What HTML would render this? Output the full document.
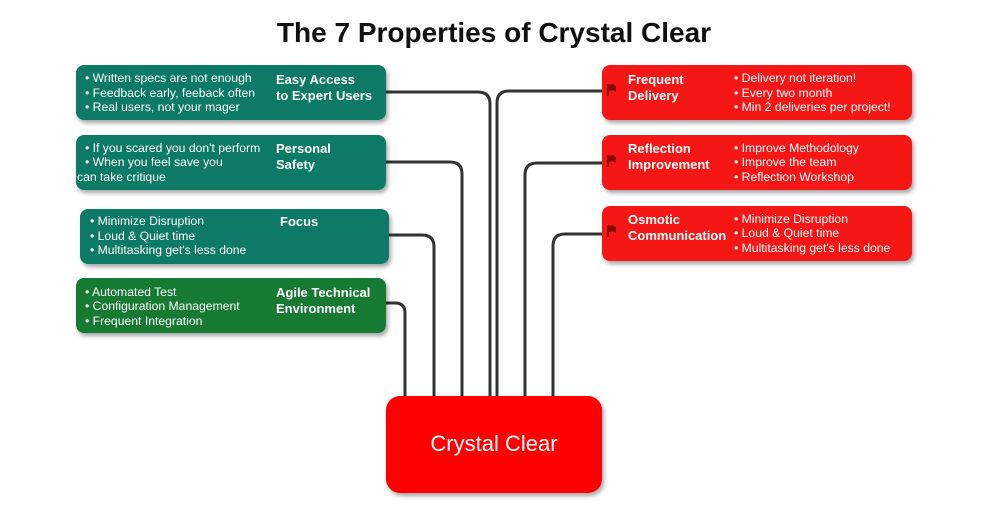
<!DOCTYPE html>
<html><head><meta charset="utf-8"><style>
body{margin:0;background:#fff;width:988px;height:524px;overflow:hidden;font-family:"Liberation Sans",sans-serif;}
</style></head><body>
<svg width="988" height="524" xmlns="http://www.w3.org/2000/svg" font-family="Liberation Sans, sans-serif">
<defs><filter id="sh" x="-10%" y="-20%" width="130%" height="150%"><feDropShadow dx="2" dy="3" stdDeviation="2" flood-color="#000" flood-opacity="0.35"/></filter></defs>
<text x="494" y="42" text-anchor="middle" font-size="28" font-weight="bold" fill="#111">The 7 Properties of Crystal Clear</text>
<g fill="none" stroke="#333" stroke-width="3">
<path d="M386 92 H478 Q490 92 490 104 V397"/>
<path d="M386 162 H450 Q462 162 462 174 V397"/>
<path d="M389 235 H422 Q434 235 434 247 V397"/>
<path d="M386 303 H395 Q405 303 405 313 V397"/>
<path d="M602 91 H509 Q497 91 497 103 V397"/>
<path d="M602 163 H537 Q525 163 525 175 V397"/>
<path d="M602 234 H565 Q553 234 553 246 V397"/>
</g>
<g filter="url(#sh)">
<rect x="76" y="65" width="310" height="55" rx="8" fill="#0d7a66"/>
<rect x="76" y="135" width="310" height="55" rx="8" fill="#0d7a66"/>
<rect x="80" y="209" width="309" height="55" rx="8" fill="#0d7a66"/>
<rect x="76" y="278" width="310" height="55" rx="8" fill="#137a30"/>
<rect x="602" y="65" width="310" height="55" rx="8" fill="#f51212"/>
<rect x="602" y="135" width="310" height="55" rx="8" fill="#f51212"/>
<rect x="602" y="206" width="310" height="55" rx="8" fill="#f51212"/>
<rect x="386" y="396" width="216" height="97" rx="14" fill="#fe0000"/>
</g>
<g fill="#fff" font-size="12.2">
<text x="85" y="82">• Written specs are not enough</text>
<text x="85" y="97">• Feedback early, feeback often</text>
<text x="85" y="111">• Real users, not your mager</text>
<text x="85" y="152">• If you scared you don't perform</text>
<text x="85" y="166">• When you feel save you</text>
<text x="77" y="181">can take critique</text>
<text x="90" y="225">• Minimize Disruption</text>
<text x="90" y="240">• Loud &amp; Quiet time</text>
<text x="90" y="254">• Multitasking get's less done</text>
<text x="85" y="296">• Automated Test</text>
<text x="85" y="310">• Configuration Management</text>
<text x="85" y="325">• Frequent Integration</text>
<text x="734" y="82">• Delivery not iteration!</text>
<text x="734" y="97">• Every two month</text>
<text x="734" y="111">• Min 2 deliveries per project!</text>
<text x="734" y="152">• Improve Methodology</text>
<text x="734" y="166">• Improve the team</text>
<text x="734" y="181">• Reflection Workshop</text>
<text x="734" y="223">• Minimize Disruption</text>
<text x="734" y="237">• Loud &amp; Quiet time</text>
<text x="734" y="252">• Multitasking get's less done</text>
</g>
<g fill="#fff" font-size="13" font-weight="bold">
<text x="276" y="84">Easy Access</text><text x="276" y="100">to Expert Users</text>
<text x="276" y="153">Personal</text><text x="276" y="169">Safety</text>
<text x="280" y="226">Focus</text>
<text x="276" y="297">Agile Technical</text><text x="276" y="313">Environment</text>
<text x="628" y="84">Frequent</text><text x="628" y="100">Delivery</text>
<text x="628" y="153">Reflection</text><text x="628" y="169">Improvement</text>
<text x="628" y="224">Osmotic</text><text x="628" y="240">Communication</text>
</g>
<g fill="#8a0000">
<path d="M607 84 h2 v12 h-2z M609 85 q4 -2 7 1 v6 q-3 -3 -7 -1z"/>
<path d="M607 155 h2 v12 h-2z M609 156 q4 -2 7 1 v6 q-3 -3 -7 -1z"/>
<path d="M607 225 h2 v12 h-2z M609 226 q4 -2 7 1 v6 q-3 -3 -7 -1z"/>
</g>
<text x="494" y="451" text-anchor="middle" font-size="22" fill="#fff">Crystal Clear</text>
</svg>
</body></html>
